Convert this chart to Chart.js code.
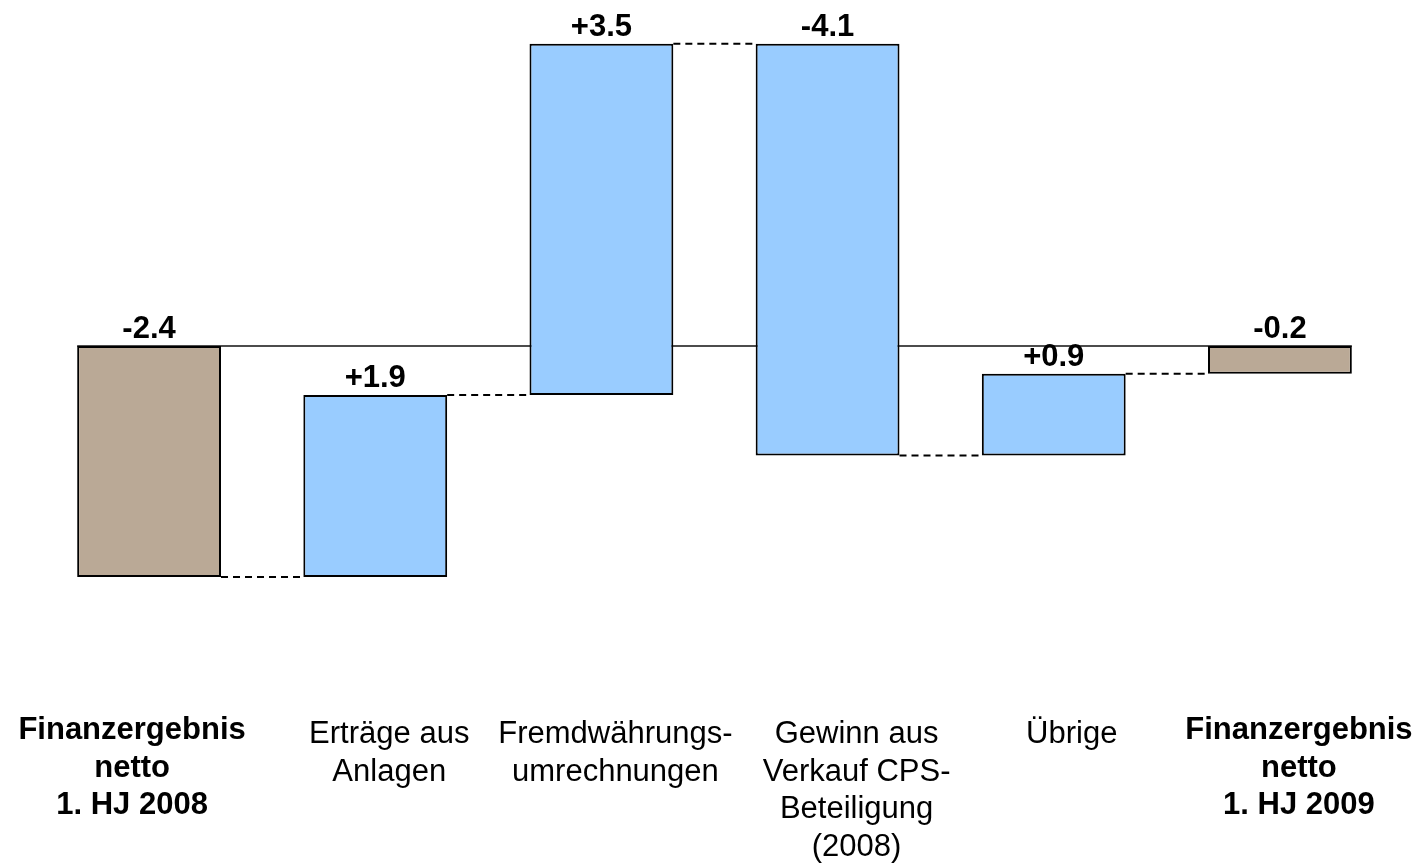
<!DOCTYPE html>
<html>
<head>
<meta charset="utf-8">
<script src="https://cdn.jsdelivr.net/npm/chart.js@4/dist/chart.umd.min.js"></script>
<style>
  html, body { margin: 0; padding: 0; background: #fff; }
  #wrap { width: 1427px; height: 865px; position: relative; }
</style>
</head>
<body>
<div id="wrap"><canvas id="chart"></canvas></div>
<script>
// categories (lines of each label)
const categories = [
  ["Finanzergebnis", "netto", "1. HJ 2008"],
  ["Erträge aus", "Anlagen"],
  ["Fremdwährungs-", "umrechnungen"],
  ["Gewinn aus", "Verkauf CPS-", "Beteiligung", "(2008)"],
  ["Übrige"],
  ["Finanzergebnis", "netto", "1. HJ 2009"]
];
const totalFlags = [true, false, false, false, false, true];

// start value and the changes
const startValue = -2.4;
const changes = [1.89, 3.65, -4.28, 0.85];

// printed value labels
const valueLabels = ["-2.4", "+1.9", "+3.5", "-4.1", "+0.9", "-0.2"];

const tan = "#baa996";
const blue = "#99ccff";

// build floating bars
const ranges = [[0, startValue]];
let level = startValue;
changes.forEach(c => {
  ranges.push([level, level + c]);
  level += c;
});
ranges.push([0, level]);
const ends = ranges.map(r => r[1]);

const colors = totalFlags.map(t => t ? tan : blue);
const labelShift = [-17, 14, 14, 29, 18, 19];

const waterfallDeco = {
  id: "waterfallDeco",
  beforeDatasetsDraw(chart) {
    const ctx = chart.ctx;
    const y = chart.scales.y;
    const bars = chart.getDatasetMeta(0).data;
    ctx.save();
    // zero line
    ctx.strokeStyle = "#111";
    ctx.lineWidth = 1.5;
    ctx.beginPath();
    const y0 = y.getPixelForValue(0);
    ctx.moveTo(bars[0].x - bars[0].width / 2, y0);
    ctx.lineTo(bars[bars.length - 1].x + bars[bars.length - 1].width / 2, y0);
    ctx.stroke();
    // connectors
    ctx.setLineDash([7, 5]);
    ctx.lineWidth = 2;
    ctx.strokeStyle = "#000";
    for (let i = 0; i < bars.length - 1; i++) {
      const yy = y.getPixelForValue(ends[i]);
      ctx.beginPath();
      ctx.moveTo(bars[i].x + bars[i].width / 2, yy);
      ctx.lineTo(bars[i + 1].x - bars[i + 1].width / 2, yy);
      ctx.stroke();
    }
    ctx.restore();
  },
  afterDatasetsDraw(chart) {
    const ctx = chart.ctx;
    const y = chart.scales.y;
    const x = chart.scales.x;
    const bars = chart.getDatasetMeta(0).data;
    ctx.save();
    ctx.fillStyle = "#000";
    ctx.textAlign = "center";
    ctx.textBaseline = "alphabetic";
    ctx.font = "bold 31px 'Liberation Sans', Arial, sans-serif";
    bars.forEach((b, i) => {
      const top = y.getPixelForValue(Math.max(ranges[i][0], ranges[i][1]));
      ctx.fillText(valueLabels[i], b.x, top - 8);
    });
    categories.forEach((lines, i) => {
      const cx = x.getPixelForValue(i) + labelShift[i];
      ctx.font = (totalFlags[i] ? "bold " : "") + "31px 'Liberation Sans', Arial, sans-serif";
      const base = totalFlags[i] ? 739 : 743;
      lines.forEach((t, j) => ctx.fillText(t, cx, base + j * 37.5));
    });
    ctx.restore();
  }
};

new Chart(document.getElementById("chart"), {
  type: "bar",
  data: {
    labels: categories.map(c => c.join(" ")),
    datasets: [{
      data: ranges,
      backgroundColor: colors,
      borderColor: "#000",
      borderWidth: 2,
      borderSkipped: false,
      categoryPercentage: 1,
      barPercentage: 0.636
    }]
  },
  options: {
    responsive: true,
    maintainAspectRatio: false,
    animation: false,
    layout: { padding: { left: 36, right: 34, top: 9, bottom: 163 } },
    plugins: { legend: { display: false }, tooltip: { enabled: false } },
    scales: {
      x: { display: false },
      y: { display: false, min: -3.7, max: 3.5 }
    }
  },
  plugins: [waterfallDeco]
});
</script>
</body>
</html>
